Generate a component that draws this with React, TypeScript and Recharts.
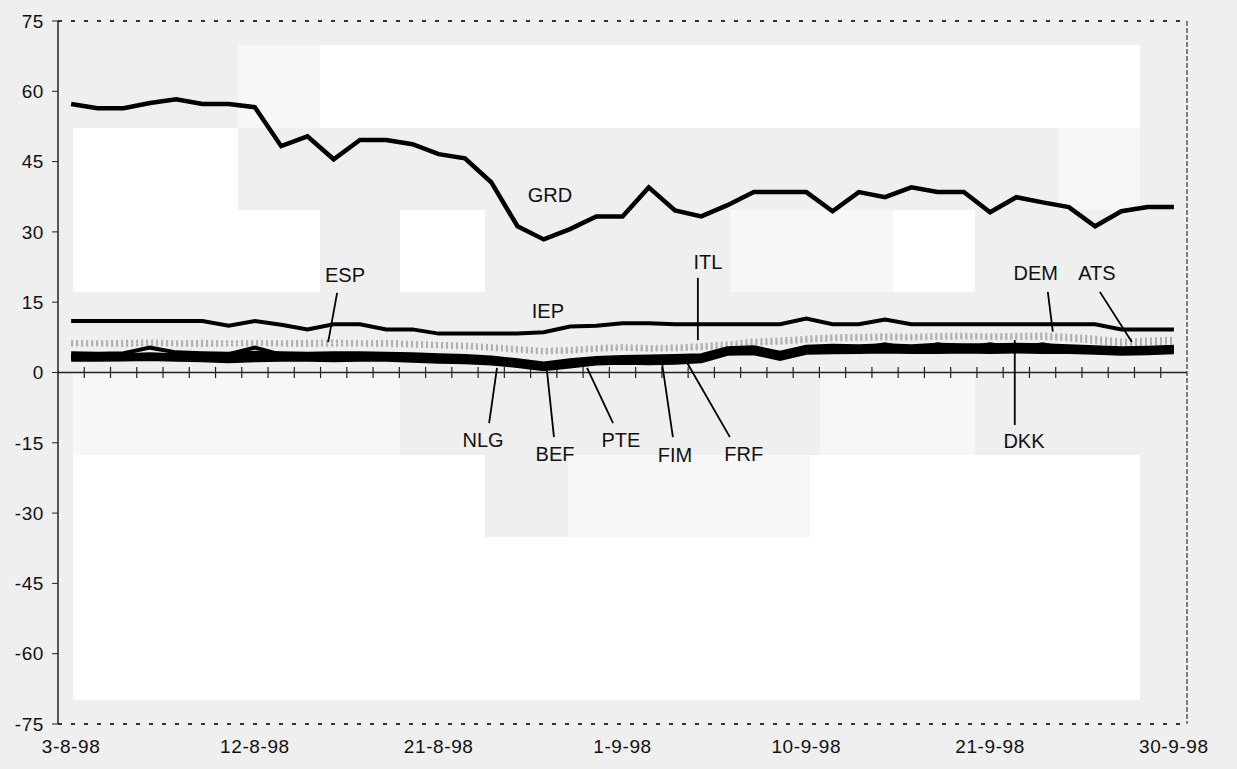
import React from "react";
import { LineChart, Line, XAxis, YAxis, ReferenceLine, ReferenceDot } from "recharts";

// business days, 3 Aug - 30 Sep 1998
const dates = [
  "3-8-98", "4-8-98", "5-8-98", "6-8-98", "7-8-98", "10-8-98", "11-8-98", "12-8-98",
  "13-8-98", "14-8-98", "17-8-98", "18-8-98", "19-8-98", "20-8-98", "21-8-98", "24-8-98",
  "25-8-98", "26-8-98", "27-8-98", "28-8-98", "31-8-98", "1-9-98", "2-9-98", "3-9-98",
  "4-9-98", "7-9-98", "8-9-98", "9-9-98", "10-9-98", "11-9-98", "14-9-98", "15-9-98",
  "16-9-98", "17-9-98", "18-9-98", "21-9-98", "22-9-98", "23-9-98", "24-9-98", "25-9-98",
  "28-9-98", "29-9-98", "30-9-98",
];

const GRD = [57.3, 56.4, 56.4, 57.5, 58.3, 57.3, 57.3, 56.6, 48.3, 50.4, 45.5, 49.6, 49.6, 48.7, 46.6, 45.7, 40.6, 31.2, 28.4, 30.6, 33.3, 33.3, 39.5, 34.6, 33.3, 35.7, 38.5, 38.5, 38.5, 34.4, 38.5, 37.4, 39.5, 38.5, 38.5, 34.2, 37.4, 36.3, 35.3, 31.2, 34.4, 35.3, 35.3];
const IEP = [11.0, 11.0, 11.0, 11.0, 11.0, 11.0, 10.0, 11.0, 10.2, 9.2, 10.3, 10.3, 9.2, 9.2, 8.3, 8.3, 8.3, 8.3, 8.6, 9.8, 10.0, 10.5, 10.5, 10.3, 10.3, 10.3, 10.3, 10.3, 11.5, 10.3, 10.3, 11.3, 10.3, 10.3, 10.3, 10.3, 10.3, 10.3, 10.3, 10.3, 9.2, 9.2, 9.2];

const ESP = [6.4, 6.3, 6.5, 6.4, 6.3, 6.4, 6.5, 6.3, 6.4, 6.4, 6.5, 6.4, 6.3, 6.2, 6.0, 5.8, 5.4, 5.0, 4.6, 4.8, 5.2, 5.4, 5.2, 5.3, 5.6, 6.0, 6.6, 6.8, 7.2, 7.5, 7.6, 7.8, 7.7, 7.8, 7.9, 7.8, 7.8, 7.9, 7.6, 7.2, 6.6, 6.8, 7.0];
const ITL = [6.0, 6.1, 6.0, 5.9, 6.1, 6.0, 5.9, 6.0, 6.1, 6.0, 5.9, 6.0, 6.1, 5.9, 5.6, 5.5, 5.1, 4.7, 4.3, 4.5, 4.9, 5.1, 4.9, 5.0, 5.2, 5.6, 6.2, 6.4, 6.9, 7.2, 7.3, 7.4, 7.4, 7.5, 7.6, 7.5, 7.5, 7.6, 7.3, 6.8, 6.2, 6.4, 6.6];
const DEM = [6.7, 6.6, 6.7, 6.8, 6.6, 6.7, 6.6, 6.7, 6.6, 6.7, 6.8, 6.6, 6.7, 6.5, 6.3, 6.1, 5.8, 5.4, 5.0, 5.2, 5.6, 5.8, 5.6, 5.7, 6.0, 6.4, 7.0, 7.2, 7.6, 7.9, 8.0, 8.1, 8.0, 8.2, 8.2, 8.1, 8.2, 8.3, 8.0, 7.6, 7.0, 7.2, 7.4];
const ATS = [5.8, 5.8, 5.7, 5.9, 5.8, 5.7, 5.8, 5.9, 5.8, 5.7, 5.8, 5.8, 5.7, 5.6, 5.4, 5.2, 4.9, 4.5, 4.1, 4.3, 4.7, 4.9, 4.7, 4.8, 5.0, 5.4, 6.0, 6.2, 6.6, 6.9, 7.0, 7.1, 7.1, 7.2, 7.3, 7.2, 7.2, 7.2, 6.9, 6.3, 5.8, 6.0, 6.3];

const NLG = [4.1, 4.0, 4.1, 5.3, 4.3, 4.1, 4.0, 4.2, 4.1, 4.0, 4.1, 4.1, 4.0, 3.9, 3.7, 3.5, 3.2, 2.6, 1.9, 2.6, 3.1, 3.3, 3.4, 3.5, 3.7, 5.2, 5.4, 4.2, 5.5, 5.7, 5.6, 5.8, 5.6, 5.9, 5.8, 5.8, 5.9, 5.8, 5.6, 5.4, 5.2, 5.3, 5.5];
const BEF = [2.7, 2.7, 2.8, 2.9, 2.7, 2.6, 2.4, 2.6, 2.7, 2.7, 2.6, 2.7, 2.7, 2.5, 2.3, 2.2, 1.9, 1.4, 0.7, 1.3, 1.9, 2.1, 2.0, 2.1, 2.4, 4.0, 4.1, 2.9, 4.2, 4.3, 4.4, 4.5, 4.4, 4.4, 4.5, 4.4, 4.5, 4.4, 4.4, 4.2, 4.0, 4.1, 4.3];
const PTE = [3.7, 3.6, 3.7, 3.9, 3.7, 3.7, 3.9, 5.3, 3.8, 3.6, 3.7, 3.7, 3.6, 3.5, 3.3, 3.2, 2.9, 2.3, 1.6, 2.4, 2.8, 3.0, 3.0, 3.1, 3.3, 4.9, 5.0, 3.8, 5.1, 5.3, 5.2, 5.4, 5.3, 5.3, 5.5, 5.3, 5.5, 5.4, 5.2, 5.0, 4.8, 5.0, 5.1];
const FIM = [3.1, 3.2, 3.1, 3.2, 3.1, 3.2, 3.0, 3.2, 3.1, 3.2, 3.1, 3.1, 3.2, 2.9, 2.7, 2.6, 2.3, 1.8, 1.1, 1.7, 2.2, 2.4, 2.5, 2.6, 2.8, 4.3, 4.4, 3.2, 4.5, 4.7, 4.8, 4.9, 4.7, 4.8, 4.9, 4.9, 4.9, 4.8, 4.7, 4.5, 4.4, 4.5, 4.6];
const FRF = [3.5, 3.4, 3.4, 3.6, 3.5, 3.4, 3.3, 3.6, 3.5, 3.4, 3.5, 3.5, 3.4, 3.3, 3.1, 3.0, 2.7, 2.1, 1.4, 2.1, 2.6, 2.8, 2.8, 2.9, 3.1, 4.7, 4.8, 3.6, 4.9, 5.1, 5.1, 5.3, 5.1, 5.2, 5.3, 5.2, 5.3, 5.2, 5.1, 4.9, 4.7, 4.8, 5.0];
const DKK = [3.3, 3.3, 3.3, 3.4, 3.3, 3.3, 3.2, 3.4, 3.3, 3.3, 3.3, 3.3, 3.3, 3.1, 2.9, 2.8, 2.5, 1.9, 1.2, 1.9, 2.4, 2.6, 2.6, 2.7, 2.9, 4.5, 4.6, 3.4, 4.7, 4.9, 5.0, 6.0, 4.9, 6.0, 5.1, 6.0, 5.1, 6.0, 4.9, 4.7, 4.5, 4.6, 4.8];

const yTicks = [-75, -60, -45, -30, -15, 0, 15, 30, 45, 60, 75];
const xTicks = [0, 7, 14, 21, 28, 35, 42];

const greySeries = { ESP, ITL, DEM, ATS };
const blackSeries = { NLG, BEF, PTE, FIM, FRF, DKK };

const data = dates.map((d, i) => ({
  i,
  date: d,
  GRD: GRD[i],
  IEP: IEP[i],
  ESP: ESP[i],
  ITL: ITL[i],
  DEM: DEM[i],
  ATS: ATS[i],
  NLG: NLG[i],
  BEF: BEF[i],
  PTE: PTE[i],
  FIM: FIM[i],
  FRF: FRF[i],
  DKK: DKK[i],
}));

// category boundaries on the zero line
const boundaries = dates.slice(1).map((_, k) => k + 0.5);

// series labels, in data units (x = day index), with optional leader lines
const notes = [
  { t: "GRD", x: 18.24, y: 37.9 },
  { t: "IEP", x: 18.16, y: 13.1 },
  { t: "ESP", x: 10.43, y: 20.8, from: [10.13, 17.0], to: [9.79, 6.5] },
  { t: "ITL", x: 24.25, y: 23.6, from: [23.87, 20.2], to: [23.87, 6.9] },
  { t: "DEM", x: 36.74, y: 21.3, from: [37.2, 17.2], to: [37.39, 8.7] },
  { t: "ATS", x: 39.07, y: 21.3, from: [39.18, 17.2], to: [40.4, 6.5] },
  { t: "NLG", x: 15.69, y: -14.4, from: [15.92, -10.8], to: [16.22, 1.0] },
  { t: "BEF", x: 18.43, y: -17.4, from: [18.39, -13.8], to: [18.12, 0.5] },
  { t: "PTE", x: 20.94, y: -14.4, from: [20.64, -10.8], to: [19.65, 1.0] },
  { t: "FIM", x: 23.0, y: -17.6, from: [22.92, -13.8], to: [22.5, 2.2] },
  { t: "FRF", x: 25.62, y: -17.4, from: [25.09, -13.8], to: [23.45, 2.2] },
  { t: "DKK", x: 36.29, y: -14.6, from: [35.94, -11.2], to: [35.94, 6.9] },
];

// scan shading behind the plot (page pixels)
const shades = [
  { l: 320, t: 45, w: 820, h: 83, c: "#ffffff" },
  { l: 238, t: 45, w: 82, h: 83, c: "#f7f7f7" },
  { l: 73, t: 128, w: 165, h: 164, c: "#ffffff" },
  { l: 238, t: 210, w: 82, h: 82, c: "#ffffff" },
  { l: 400, t: 210, w: 85, h: 82, c: "#ffffff" },
  { l: 730, t: 210, w: 163, h: 82, c: "#f7f7f7" },
  { l: 893, t: 210, w: 82, h: 82, c: "#ffffff" },
  { l: 1058, t: 128, w: 82, h: 82, c: "#f7f7f7" },
  { l: 73, t: 373, w: 327, h: 82, c: "#f7f7f7" },
  { l: 820, t: 373, w: 155, h: 82, c: "#f7f7f7" },
  { l: 73, t: 455, w: 1067, h: 245, c: "#ffffff" },
  { l: 485, t: 455, w: 83, h: 82, c: "#efefef" },
  { l: 568, t: 455, w: 242, h: 82, c: "#f7f7f7" },
];

const font = "'Liberation Sans', Arial, Helvetica, sans-serif";
const tickStyle = { fontSize: 19, fill: "#111", fontFamily: font, letterSpacing: 0.6 };

export default function App() {
  return (
    <div style={{ position: "absolute", left: 0, top: 0, width: 1237, height: 769, background: "#efefef", overflow: "hidden" }}>
      {shades.map((s, k) => (
        <div key={k} style={{ position: "absolute", left: s.l, top: s.t, width: s.w, height: s.h, background: s.c }} />
      ))}
      <div style={{ position: "absolute", left: 0, top: 0 }}>
        <LineChart width={1237} height={769} data={data} margin={{ top: 21, right: 0, bottom: 0, left: 0 }}>
          <XAxis
            dataKey="i"
            type="number"
            domain={[-0.5, 42.5]}
            ticks={xTicks}
            interval={0}
            tickFormatter={(v: number) => dates[v]}
            axisLine={false}
            tickLine={false}
            tickSize={6}
            tickMargin={10}
            height={45}
            tick={tickStyle}
          />
          <YAxis
            yAxisId="left"
            domain={[-75, 75]}
            ticks={yTicks}
            interval={0}
            width={58}
            axisLine={{ stroke: "#222", strokeWidth: 1.5 }}
            tickLine={{ stroke: "#222" }}
            tickSize={6}
            tickMargin={8}
            tick={tickStyle}
          />
          <YAxis
            yAxisId="right"
            orientation="right"
            domain={[-75, 75]}
            ticks={yTicks}
            interval={0}
            width={50}
            axisLine={{ stroke: "#333", strokeWidth: 1.2, strokeDasharray: "5 2" }}
            tickLine={{ stroke: "#333" }}
            tickSize={6}
            tickMargin={7}
            tick={tickStyle}
          />

          <ReferenceLine yAxisId="left" y={75} stroke="#333" strokeWidth={2} strokeDasharray="4 9" />
          <ReferenceLine yAxisId="left" y={-75} stroke="#333" strokeWidth={2} strokeDasharray="4 9" />
          <ReferenceLine yAxisId="left" y={0} stroke="#222" strokeWidth={1.5} />
          {boundaries.map((b) => (
            <ReferenceLine
              key={"b" + b}
              yAxisId="left"
              segment={[{ x: b, y: -1.2 }, { x: b, y: 1.2 }]}
              stroke="#222"
              strokeWidth={1.2}
            />
          ))}

          {Object.keys(greySeries).map((k) => (
            <Line
              key={k}
              yAxisId="left"
              dataKey={k}
              stroke="#b0b0b0"
              strokeWidth={2.5}
              strokeDasharray="2 3"
              dot={false}
              isAnimationActive={false}
            />
          ))}
          {Object.keys(blackSeries).map((k) => (
            <Line
              key={k}
              yAxisId="left"
              dataKey={k}
              stroke="#000"
              strokeWidth={4}
              dot={false}
              isAnimationActive={false}
            />
          ))}
          <Line yAxisId="left" dataKey="IEP" stroke="#000" strokeWidth={4} dot={false} isAnimationActive={false} />
          <Line yAxisId="left" dataKey="GRD" stroke="#000" strokeWidth={4.5} dot={false} isAnimationActive={false} />

          {notes
            .filter((n) => n.from)
            .map((n) => (
              <ReferenceLine
                key={"l" + n.t}
                yAxisId="left"
                segment={[
                  { x: n.from![0], y: n.from![1] },
                  { x: n.to![0], y: n.to![1] },
                ]}
                stroke="#000"
                strokeWidth={1.8}
              />
            ))}
          {notes.map((n) => (
            <ReferenceDot
              key={"t" + n.t}
              yAxisId="left"
              x={n.x}
              y={n.y}
              r={0}
              shape={(p: any) => (
                <text
                  x={p.cx}
                  y={p.cy}
                  textAnchor="middle"
                  dominantBaseline="central"
                  fontSize={20}
                  fontFamily={font}
                  fill="#111"
                >
                  {n.t}
                </text>
              )}
            />
          ))}
        </LineChart>
      </div>
    </div>
  );
}
